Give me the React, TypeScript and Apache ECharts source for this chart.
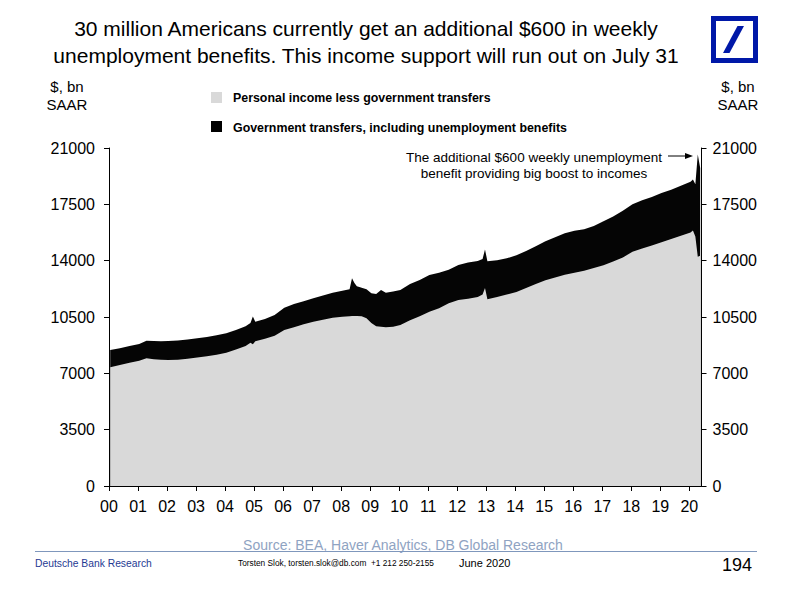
import React, { useEffect, useRef } from "react";
import * as echarts from "echarts";

// Month of observation (YYYY-MM)
const months = [
  "2000-01", "2000-05", "2000-09", "2001-01", "2001-04", "2001-07", "2001-10",
  "2002-01", "2002-05", "2002-09", "2003-01", "2003-05", "2003-09",
  "2004-01", "2004-05", "2004-09", "2004-11", "2004-12", "2005-01", "2005-05", "2005-09",
  "2006-01", "2006-05", "2006-09", "2007-01", "2007-05", "2007-09",
  "2008-01", "2008-04", "2008-05", "2008-06", "2008-07", "2008-09", "2008-11",
  "2009-01", "2009-03", "2009-05", "2009-07", "2009-10",
  "2010-01", "2010-05", "2010-09", "2011-01", "2011-05", "2011-09",
  "2012-01", "2012-05", "2012-09", "2012-11", "2012-12", "2013-01", "2013-05", "2013-09",
  "2014-01", "2014-05", "2014-09", "2015-01", "2015-05", "2015-09",
  "2016-01", "2016-05", "2016-09", "2017-01", "2017-05", "2017-09",
  "2018-01", "2018-05", "2018-09", "2019-01", "2019-05", "2019-09",
  "2020-01", "2020-02", "2020-03", "2020-04", "2020-05",
];

// Personal income less government transfers, $bn SAAR
const incomeLessTransfers = [
  7380, 7520, 7650, 7780, 7930, 7880, 7850,
  7830, 7850, 7900, 7990, 8060, 8150,
  8280, 8480, 8700, 8900, 8800, 9000, 9150, 9330,
  9690, 9870, 10050, 10210, 10330, 10450,
  10520, 10550, 10560, 10560, 10560, 10550, 10420,
  10120, 9920, 9900, 9860, 9900,
  10000, 10300, 10550, 10830, 11050, 11350,
  11560, 11630, 11750, 11900, 12300, 11600, 11750, 11900,
  12050, 12300, 12550, 12780, 12950, 13120,
  13250, 13380, 13550, 13720, 13950, 14200,
  14550, 14750, 14950, 15150, 15350, 15550,
  15750, 15880, 15500, 14250, 14300,
];

// Government transfers, including unemployment benefits, $bn SAAR
const govTransfers = [
  1070, 1040, 1050, 1040, 1090, 1130, 1150,
  1180, 1190, 1200, 1190, 1200, 1210,
  1210, 1220, 1230, 1220, 1730, 1200, 1230, 1300,
  1380, 1430, 1430, 1450, 1510, 1550,
  1610, 1680, 2340, 2050, 1850, 1770, 1810,
  1860, 2010, 2270, 2140, 2180,
  2180, 2250, 2250, 2280, 2200, 2080,
  2170, 2250, 2230, 2200, 2400, 2360, 2270, 2250,
  2280, 2300, 2350, 2420, 2500, 2580,
  2610, 2570, 2600, 2730, 2800, 2900,
  2950, 3000, 3000, 3050, 3050, 3100,
  3150, 3170, 3250, 6350, 5450,
];

const yearLabels = [
  "00", "01", "02", "03", "04", "05", "06", "07", "08", "09", "10",
  "11", "12", "13", "14", "15", "16", "17", "18", "19", "20",
];
const yMin = 0;
const yMax = 21000;
const yStep = 3500;

const FONT = "'Liberation Sans', Arial, sans-serif";

export default function App() {
  const ref = useRef<HTMLDivElement | null>(null);

  useEffect(() => {
    document.body.style.margin = "0";
    if (!ref.current) return;
    const chart = echarts.init(ref.current, undefined, { renderer: "svg" });

    const toYear = (m: string) => {
      const [y, mo] = m.split("-").map(Number);
      return y + (mo - 0.5) / 12;
    };
    const greyData = months.map((m, i) => [toYear(m), incomeLessTransfers[i]]);
    // top of the black band = income less transfers + transfers (stacked)
    const totalData = months.map((m, i) => [toYear(m), incomeLessTransfers[i] + govTransfers[i]]);

    const yAxisCommon = {
      type: "value",
      min: yMin,
      max: yMax,
      interval: yStep,
      splitLine: { show: false },
      axisLine: { show: true, lineStyle: { color: "#000", width: 1 } },
      axisTick: { show: true, inside: false, length: 5, lineStyle: { color: "#000" } },
    };

    const txt = (x: number, y: number, text: string, size: number, extra: any = {}) => ({
      type: "text",
      x,
      y,
      style: {
        text,
        fontFamily: FONT,
        fontSize: size,
        fill: "#000",
        textAlign: "left",
        textVerticalAlign: "middle",
        ...extra,
      },
    });

    chart.setOption({
      animation: false,
      grid: { left: 109, right: 93.5, top: 148, bottom: 108, containLabel: false },
      xAxis: {
        type: "value",
        min: 2000,
        max: 2020.42,
        interval: 1,
        splitLine: { show: false },
        axisLine: { show: true, lineStyle: { color: "#000", width: 1 } },
        axisTick: { show: true, length: 5, lineStyle: { color: "#000" } },
        axisLabel: {
          margin: 12,
          fontFamily: FONT,
          fontSize: 16,
          color: "#000",
          showMaxLabel: false,
          formatter: (v: number) => {
            const r = Math.round(v);
            if (Math.abs(v - r) > 1e-6) return "";
            return yearLabels[r - 2000] ?? "";
          },
        },
      },
      yAxis: [
        {
          ...yAxisCommon,
          position: "left",
          axisLabel: { margin: 14, fontFamily: FONT, fontSize: 16, color: "#000", formatter: (v: number) => String(v) },
        },
        {
          ...yAxisCommon,
          position: "right",
          axisLabel: { margin: 11, fontFamily: FONT, fontSize: 16, color: "#000", formatter: (v: number) => String(v) },
        },
      ],
      series: [
        {
          name: "Government transfers, including unemployment benefits",
          type: "line",
          data: totalData,
          symbol: "none",
          color: "#000",
          lineStyle: { width: 0 },
          areaStyle: { color: "#050505", opacity: 1 },
          z: 2,
        },
        {
          name: "Personal income less government transfers",
          type: "line",
          data: greyData,
          symbol: "none",
          color: "#D9D9D9",
          lineStyle: { width: 0 },
          areaStyle: { color: "#D9D9D9", opacity: 1 },
          z: 3,
        },
      ],
      graphic: [
        // Title
        txt(366, 28, "30 million Americans currently get an additional $600 in weekly", 21, { textAlign: "center" }),
        txt(366, 55, "unemployment benefits. This income support will run out on July 31", 21, { textAlign: "center" }),
        // Logo
        {
          type: "rect",
          shape: { x: 713.5, y: 18.5, width: 42, height: 42 },
          style: { fill: "none", stroke: "#0018A8", lineWidth: 5 },
        },
        {
          type: "polygon",
          shape: { points: [[723, 53], [729.5, 53], [744, 26], [737.5, 26]] },
          style: { fill: "#0018A8" },
        },
        // Axis units
        txt(67, 86, "$, bn", 15, { textAlign: "center" }),
        txt(67, 104, "SAAR", 15, { textAlign: "center" }),
        txt(738, 86, "$, bn", 15, { textAlign: "center" }),
        txt(738, 104, "SAAR", 15, { textAlign: "center" }),
        // Legend
        { type: "rect", shape: { x: 211, y: 92, width: 11, height: 11 }, style: { fill: "#D9D9D9" } },
        txt(233, 98, "Personal income less government transfers", 12.4, { fontWeight: "bold" }),
        { type: "rect", shape: { x: 211, y: 121, width: 11, height: 11 }, style: { fill: "#000" } },
        txt(233, 128, "Government transfers, including unemployment benefits", 12.4, { fontWeight: "bold" }),
        // Annotation
        txt(534, 157, "The additional $600 weekly unemployment", 13.5, { textAlign: "center" }),
        txt(534, 173, "benefit providing big boost to incomes", 13.5, { textAlign: "center" }),
        { type: "line", shape: { x1: 668, y1: 156, x2: 688, y2: 156 }, style: { stroke: "#000", lineWidth: 1 } },
        { type: "polygon", shape: { points: [[693, 156], [685, 153], [685, 159]] }, style: { fill: "#000" } },
        // Footer
        txt(403, 545, "Source: BEA, Haver Analytics, DB Global Research", 14, { textAlign: "center", fill: "#8FA3C2" }),
        { type: "line", shape: { x1: 35, y1: 551.5, x2: 757, y2: 551.5 }, style: { stroke: "#7F97BC", lineWidth: 1 } },
        txt(35, 563, "Deutsche Bank Research", 10.3, { fill: "#1F3A93" }),
        txt(238, 563, "Torsten Slok, torsten.slok@db.com  +1 212 250-2155", 8.3),
        txt(459, 563, "June 2020", 11),
        txt(752, 565, "194", 18, { textAlign: "right" }),
      ],
    });

    return () => chart.dispose();
  }, []);

  return <div ref={ref} style={{ width: 795, height: 594 }} />;
}
